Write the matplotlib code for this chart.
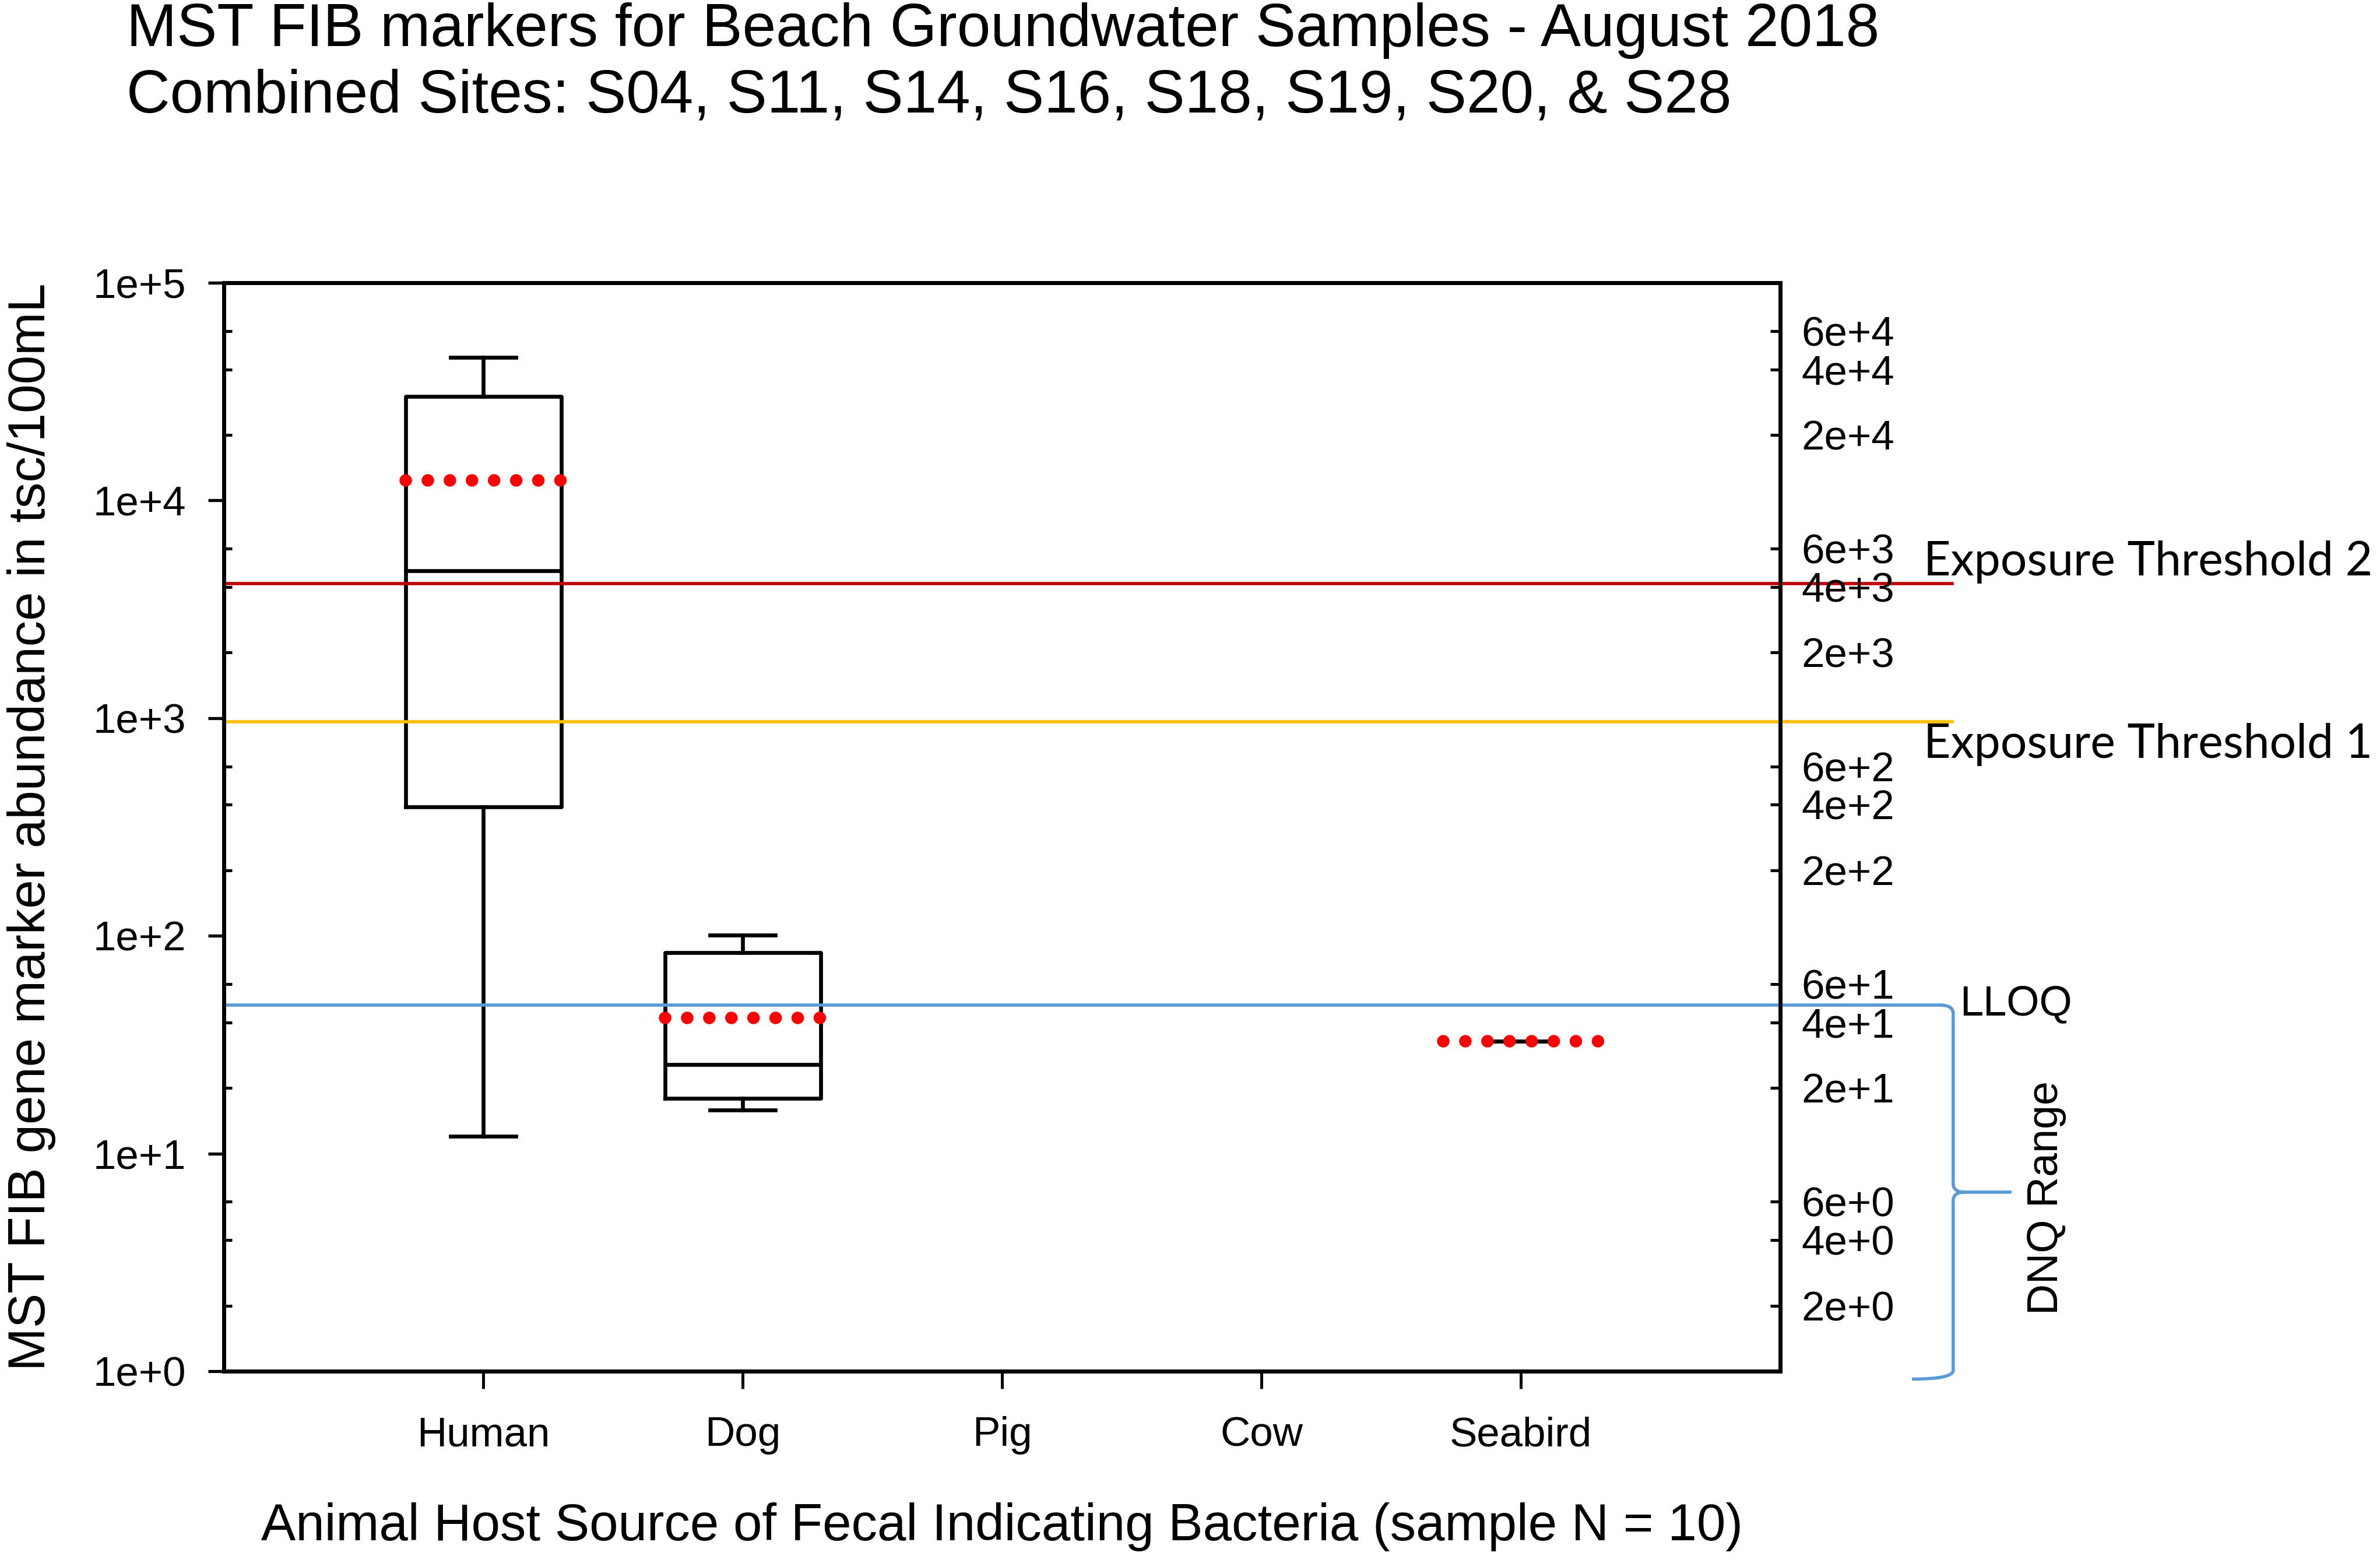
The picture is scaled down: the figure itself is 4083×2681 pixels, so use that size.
import numpy as np
import matplotlib
matplotlib.use("Agg")
import matplotlib.pyplot as plt
from matplotlib.path import Path
from matplotlib.patches import PathPatch
from matplotlib.ticker import LogLocator, NullFormatter, NullLocator

plt.rcParams['font.family'] = ['Liberation Sans', 'DejaVu Sans']

# categories on the x axis (Pig and Cow have no detections)
categories = ["Human", "Dog", "Pig", "Cow", "Seabird"]

# box plot values, tsc/100mL
box_pos = [1, 2]
whisker_lo = [12, 15.8]
q1 = [392, 17.9]
median = [4750, 25.7]
q3 = [30000, 83.5]
whisker_hi = [45300, 101]
mean = [12400, 42]
seabird_pos = 5
seabird_value = 32.8

# reference levels
threshold_2 = 4150
threshold_1 = 960
lloq = 48
dnq_bottom = 0.92

left_ticks = [1, 10, 100, 1000, 10000, 100000]
left_labels = ["1e+0", "1e+1", "1e+2", "1e+3", "1e+4", "1e+5"]
right_mult = [2, 4, 6]
right_ticks = [m * 10 ** e for e in range(5) for m in right_mult]
right_labels = [f"{m}e+{e}" for e in range(5) for m in right_mult]

title1 = "MST FIB markers for Beach Groundwater Samples - August 2018"
title2 = "Combined Sites: S04, S11, S14, S16, S18, S19, S20, & S28"

W, H = 4083, 2681
fig = plt.figure(figsize=(W / 100, H / 100), dpi=100)
ax = fig.add_axes([384 / W, 1 - 2352 / H, (3054 - 384) / W, (2352 - 485) / H])

lw = 4.8
dots = dict(color="#FF0000", lw=15.5, linestyle=(0, (0.001, 1.76)),
            dash_capstyle="round", zorder=5)
black = dict(color="black", lw=lw)

stats = [dict(med=median[i], q1=q1[i], q3=q3[i], whislo=whisker_lo[i],
              whishi=whisker_hi[i], mean=mean[i], fliers=[])
         for i in range(len(box_pos))]
ax.bxp(stats, positions=box_pos, widths=0.6, capwidths=0.25,
       showmeans=True, meanline=True, showfliers=False, manage_ticks=False,
       boxprops=black, whiskerprops=black, capprops=black,
       medianprops=black, meanprops=dots)

sb = dict(med=seabird_value, q1=seabird_value, q3=seabird_value,
          whislo=seabird_value, whishi=seabird_value, mean=seabird_value, fliers=[])
ax.bxp([sb], positions=[seabird_pos], widths=0.6, capwidths=0.25,
       showbox=False, showmeans=True, meanline=True, showfliers=False,
       manage_ticks=False, whiskerprops=black, capprops=black,
       medianprops=dict(visible=False), meanprops=dots)

# threshold lines run past the right axis
ax.plot([0, 6.663], [threshold_2, threshold_2], color="#C00000", lw=4,
        clip_on=False, zorder=3)
ax.plot([0, 6.663], [threshold_1, threshold_1], color="#FFC000", lw=4,
        clip_on=False, zorder=3)
ax.plot([0, 6.62], [lloq, lloq], color="#5B9BD5", lw=4,
        clip_on=False, zorder=3)

# curly brace for the DNQ range
mid = np.sqrt(lloq * dnq_bottom)
r = 10 ** 0.04
xb = 6.667
verts = [(6.62, lloq), (xb, lloq), (xb, lloq / r),
         (xb, mid * r), (xb, mid), (6.71, mid), (6.892, mid),
         (6.71, mid), (xb, mid), (xb, mid / r),
         (xb, dnq_bottom * r), (xb, dnq_bottom), (6.508, dnq_bottom)]
codes = [Path.MOVETO, Path.CURVE3, Path.CURVE3,
         Path.LINETO, Path.CURVE3, Path.CURVE3, Path.LINETO,
         Path.MOVETO, Path.CURVE3, Path.CURVE3,
         Path.LINETO, Path.CURVE3, Path.CURVE3]
ax.add_patch(PathPatch(Path(verts, codes), facecolor="none", edgecolor="#5B9BD5",
                       lw=4, clip_on=False, zorder=3))

ax.set_xlim(0, 6)
ax.set_yscale("log")
ax.set_ylim(1, 1e5)
ax.set_xticks(range(1, len(categories) + 1), categories)
ax.set_yticks(left_ticks, left_labels)
ax.yaxis.set_minor_locator(LogLocator(base=10, subs=right_mult))
ax.yaxis.set_minor_formatter(NullFormatter())
ax.tick_params(axis="y", which="major", direction="out", length=19.5,
               width=3.8, pad=27, labelsize=51)
ax.tick_params(axis="y", which="minor", direction="in", length=10, width=3.6)
ax.tick_params(axis="x", direction="out", length=21.6, width=3.6, pad=34,
               labelsize=51)

ax2 = ax.twinx()
ax2.set_yscale("log")
ax2.set_ylim(1, 1e5)
ax2.set_yticks(right_ticks, right_labels)
ax2.yaxis.set_minor_locator(NullLocator())
ax2.tick_params(axis="y", direction="in", length=12, width=3.6, pad=26,
                labelsize=51)
for a in (ax, ax2):
    for s in a.spines.values():
        s.set_linewidth(lw)

# annotations
ax.annotate("Exposure Threshold 2", xy=(6.553, threshold_2), xytext=(0, 10),
            textcoords="offset points", va="baseline", ha="left", fontsize=58,
            family=["Lato", "DejaVu Sans"], annotation_clip=False)
ax.annotate("Exposure Threshold 1", xy=(6.553, threshold_1), xytext=(0, -44.6),
            textcoords="offset points", va="baseline", ha="left", fontsize=58,
            family=["Lato", "DejaVu Sans"], annotation_clip=False)
ax.annotate("LLOQ", xy=(6.692, lloq), xytext=(0, -12),
            textcoords="offset points", va="baseline", ha="left", fontsize=52,
            annotation_clip=False)
ax.annotate("DNQ Range", xy=(7.025, mid), xytext=(0, -7),
            textcoords="offset points", va="center", ha="center", fontsize=53,
            rotation=90, annotation_clip=False)

fig.text(217 / W, 1 - 79 / H, title1, fontsize=74.5, va="baseline", ha="left")
fig.text(217 / W, 1 - 192 / H, title2, fontsize=74.5, va="baseline", ha="left")
fig.text(0.4210, 1 - 2642 / H,
         "Animal Host Source of Fecal Indicating Bacteria (sample N = 10)",
         fontsize=64, va="baseline", ha="center")
fig.text(96 / W, 1 - 1418 / H, "MST FIB gene marker abundance in tsc/100mL",
         fontsize=64, rotation=90, va="center", ha="right")

fig.savefig("out.png", dpi=100, facecolor="white")
